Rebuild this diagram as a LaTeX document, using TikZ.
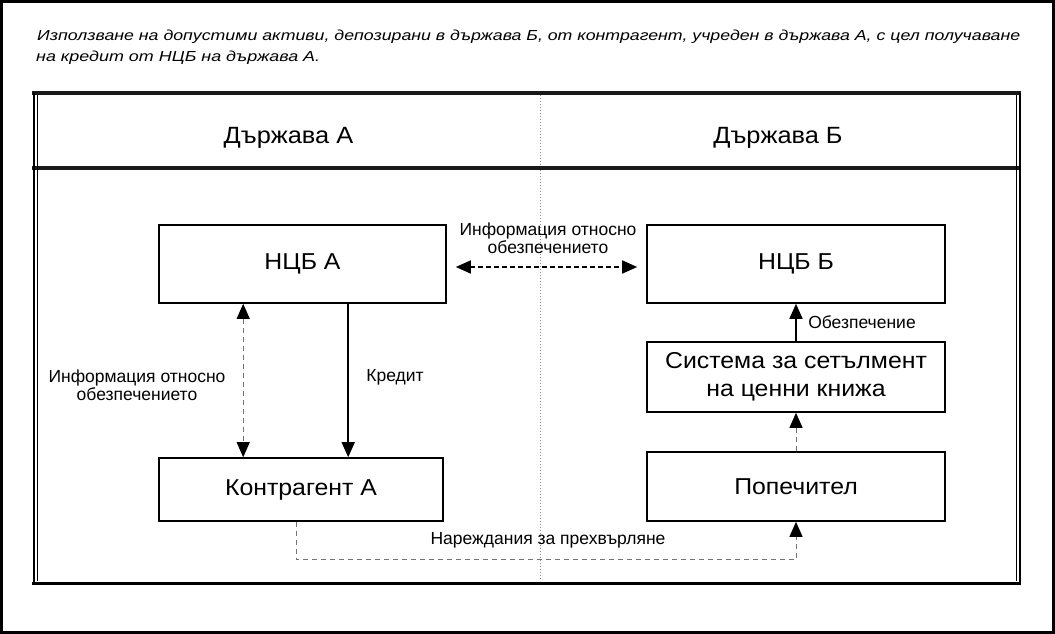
\documentclass[tikz,border=0pt]{standalone}
\usepackage{fontspec}
\setmainfont{Liberation Sans}
\newfontfamily\widefont{Liberation Sans}[FakeStretch=1.08]
\usepackage{graphicx}
\usetikzlibrary{arrows.meta}
\begin{document}
\begin{tikzpicture}[x=1pt,y=-1pt,
  box/.style={draw,line width=1.6pt,inner sep=0pt,align=center,font=\widefont\fontsize{23}{28}\selectfont},
  lbl/.style={inner sep=0pt,align=center,font=\fontsize{17.5}{18.5}\selectfont},
  hdr/.style={inner sep=0pt,anchor=base,font=\widefont\fontsize{23.5}{28}\selectfont},
  tiph/.style={-{Triangle[length=15pt,width=13pt,color=black]}},
  tipboth/.style={{Triangle[length=15pt,width=13pt,color=black]}-{Triangle[length=15pt,width=13pt,color=black]}},
  graydash/.style={draw=black!55,dash pattern=on 5pt off 4pt,line width=1pt},
  frame/.style={line width=4pt,draw=black!90}]
\useasboundingbox (0,0) rectangle (1055,634);
% outer frame
\draw[line width=3pt] (1.5,1.5) rectangle (1053.5,632.5);
% title
\node[inner sep=0pt,anchor=base west] (t1) at (37,41)
  {\resizebox{983pt}{\height}{\fontsize{14.5}{16}\selectfont\itshape Използване на допустими активи, депозирани в държава Б, от контрагент, учреден в държава А, с цел получаване}};
\node[inner sep=0pt,anchor=base west] (t2) at (36,62)
  {\resizebox{284pt}{\height}{\fontsize{14.5}{16}\selectfont\itshape на кредит от НЦБ на държава А.}};
% inner frame
\draw[black!45,dotted,line width=1pt] (540,95) -- (540,581);
\draw[frame] (32,93) -- (1021,93);
\draw[frame] (32,168) -- (1021,168);
\draw[line width=3pt] (32,583) -- (1021,583);
\draw[line width=2pt] (33.5,93) -- (33.5,583);
\draw[line width=0.8pt] (37,95) -- (37,581);
\draw[line width=2pt] (1019.5,93) -- (1019.5,583);
\draw[line width=0.8pt] (1016,95) -- (1016,581);
% headers
\node[hdr] (ha) at (288.5,143) {Държава А};
\node[hdr] (hb) at (778,143) {Държава Б};
% boxes
\node[box,minimum width=287pt,minimum height=78pt] (ncba) at (302.5,264) {НЦБ А};
\node[box,minimum width=298pt,minimum height=78pt] (ncbb) at (796,264) {НЦБ Б};
\node[box,minimum width=298pt,minimum height=70pt] (sys) at (796,377) {Система за сетълмент\\на ценни книжа};
\node[box,minimum width=298pt,minimum height=69pt] (pop) at (796,486.5) {Попечител};
\node[box,minimum width=284pt,minimum height=63pt] (kon) at (301,489.5) {Контрагент А};
% connectors
\draw[tipboth,line width=1.6pt,dash pattern=on 5pt off 3pt,shorten <=9pt,shorten >=9pt]
  ([yshift=-3pt]ncba.east) -- ([yshift=-3pt]ncbb.west);
\node[lbl] (ltop) at (548,238) {Информация относно\\обезпечението};
\draw[tipboth,graydash] ([xshift=85pt]ncba.south west) -- ([xshift=85pt]kon.north west);
\node[lbl] (lleft) at (137,385) {Информация относно\\обезпечението};
\draw[tiph,line width=1.5pt] ([xshift=190pt]ncba.south west) -- ([xshift=190pt]kon.north west);
\node[lbl,anchor=base] (lcr) at (395,381) {Кредит};
\draw[tiph,line width=1.5pt] (sys.north) -- (ncbb.south);
\node[lbl,anchor=base] (lob) at (862,328) {Обезпечение};
\draw[tiph,graydash] (pop.north) -- (sys.south);
\draw[tiph,graydash] ([xshift=138pt]kon.south west) -- ++(0,38) -| (pop.south);
\node[lbl,anchor=base] (lnar) at (548,544) {Нареждания за прехвърляне};
\end{tikzpicture}
\end{document}
